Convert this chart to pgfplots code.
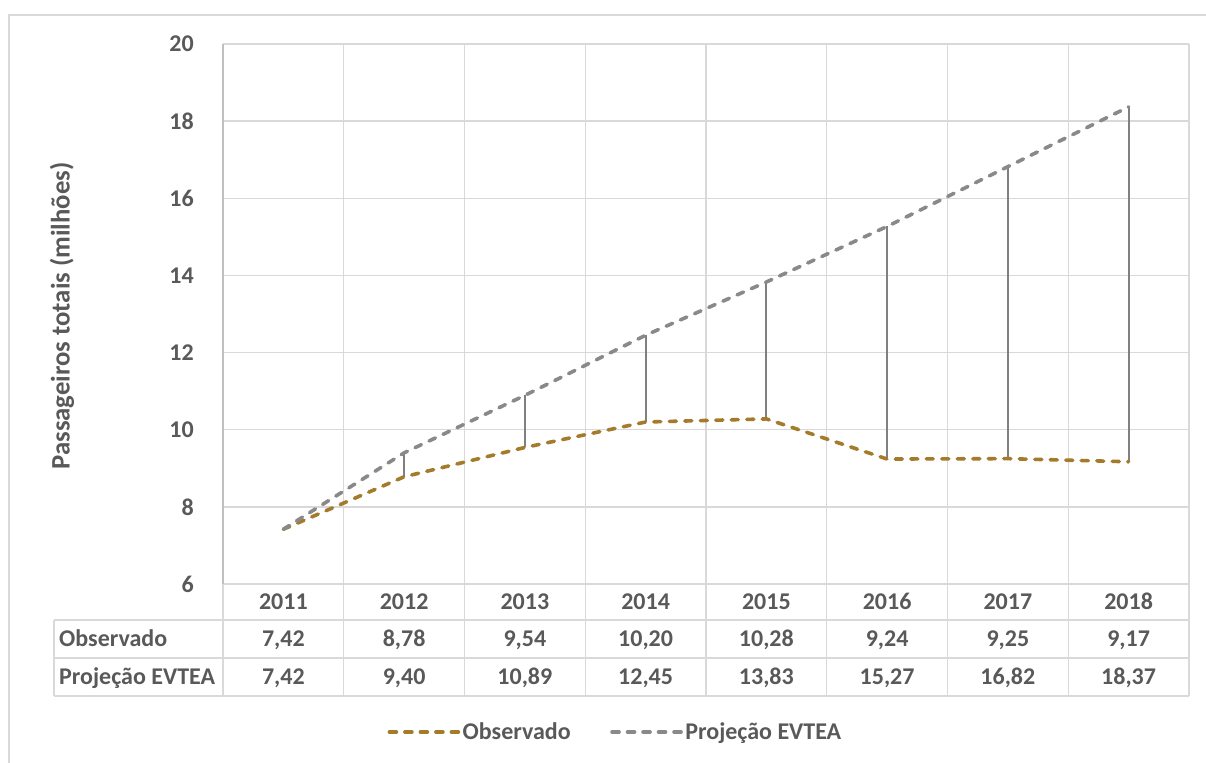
\documentclass[border=0pt]{standalone}
\usepackage{fontspec}
\setmainfont{Carlito}
\usepackage{pgfplots}
\usepackage{pgfplotstable}
\pgfplotsset{compat=1.18}

\definecolor{txt}{HTML}{595959}
\definecolor{gridc}{HTML}{D9D9D9}
\definecolor{axisc}{HTML}{BFBFBF}
\definecolor{obsc}{HTML}{A37B2B}
\definecolor{projc}{HTML}{898989}
\definecolor{dropc}{HTML}{808080}

\pgfplotstableread{
x year obs proj
0 2011 7.42 7.42
1 2012 8.78 9.40
2 2013 9.54 10.89
3 2014 10.20 12.45
4 2015 10.28 13.83
5 2016 9.24 15.27
6 2017 9.25 16.82
7 2018 9.17 18.37
}\passageiros

\pgfkeys{/pgf/number format/assume math mode=true}
\newcommand{\lbl}{\fontsize{24bp}{28bp}\selectfont\bfseries}

\begin{document}
\begin{tikzpicture}
% page frame
\path[use as bounding box] (0,0) rectangle (1206bp,-763bp);
\draw[gridc, line width=1.3bp] (9bp,-763bp) -- (9bp,-15bp) -- (1206bp,-15bp);

\begin{axis}[
  at={(223bp,-584bp)}, anchor=south west,
  scale only axis, width=966bp, height=540bp,
  xmin=-0.5, xmax=7.5, ymin=6, ymax=20,
  xtick={-0.5,0.5,...,7.5}, xticklabels={},
  ytick={6,8,...,20},
  grid=major, major grid style={gridc, line width=1.3bp},
  major tick length=0pt,
  axis x line*=bottom, axis y line*=left,
  x axis line style={gridc, line width=1.3bp},
  y axis line style={axisc, line width=1.3bp},
  yticklabel style={font=\lbl, text=txt, anchor=east, inner sep=0pt, xshift=-29bp},
  clip=false,
  legend columns=2,
  legend cell align=left,
  legend style={at={(rel axis cs:0.406,-0.274)}, anchor=center, draw=none, fill=none,
    font=\lbl, text=txt,
    nodes={inner sep=1.5bp},
    /tikz/every even column/.append style={column sep=38bp}},
  legend image code/.code={\draw[#1] (0bp,0bp) -- (70bp,0bp);},
]
% vertical gaps between projection and observation
\addplot[draw=none, mark=none, forget plot,
  error bars/.cd, y dir=plus, y explicit, error mark=none,
  error bar style={dropc, line width=2.2bp}]
  table[x=x, y=obs, y error expr=\thisrow{proj}-\thisrow{obs}] {\passageiros};

\addplot[obsc, line width=3.6bp, line cap=round, dash pattern=on 7bp off 8.5bp]
  table[x=x, y=obs] {\passageiros};
\addlegendentry{Observado}
\addplot[projc, line width=3.6bp, line cap=round, dash pattern=on 7bp off 8.5bp]
  table[x=x, y=proj] {\passageiros};
\addlegendentry{Projeção EVTEA}
\end{axis}

% y axis title
\node[rotate=90, text=txt, font=\fontsize{26.7bp}{30bp}\selectfont\bfseries]
  at (62bp,-316bp) {Passageiros totais (milhões)};

% data table grid
\foreach \yy in {620,658,696}
  \draw[gridc, line width=1.3bp] (54bp,-\yy bp) -- (1189bp,-\yy bp);
\draw[gridc, line width=1.3bp] (54bp,-620bp) -- (54bp,-696bp);
\foreach \k in {0,...,8}{
  \pgfmathsetmacro\bx{223+\k*120.75}
  \draw[gridc, line width=1.3bp] (\bx bp,-584bp) -- (\bx bp,-696bp);
}
% row labels
\node[anchor=base west, inner sep=0pt, text=txt, font=\lbl] at (59bp,-646bp) {Observado};
\node[anchor=base west, inner sep=0pt, text=txt, font=\lbl] at (59bp,-684bp) {Projeção EVTEA};
% table values
\foreach \i in {0,...,7}{
  \pgfmathsetmacro\cx{223+(\i+0.5)*120.75}
  \pgfplotstablegetelem{\i}{year}\of\passageiros
  \node[anchor=base, inner sep=0pt, text=txt, font=\lbl] at (\cx bp,-609bp) {\pgfplotsretval};
  \pgfplotstablegetelem{\i}{obs}\of\passageiros
  \node[anchor=base, inner sep=0pt, text=txt, font=\lbl] at (\cx bp,-646bp)
    {\pgfmathprintnumber[fixed,fixed zerofill,precision=2,use comma]{\pgfplotsretval}};
  \pgfplotstablegetelem{\i}{proj}\of\passageiros
  \node[anchor=base, inner sep=0pt, text=txt, font=\lbl] at (\cx bp,-684bp)
    {\pgfmathprintnumber[fixed,fixed zerofill,precision=2,use comma]{\pgfplotsretval}};
}
\end{tikzpicture}
\end{document}
